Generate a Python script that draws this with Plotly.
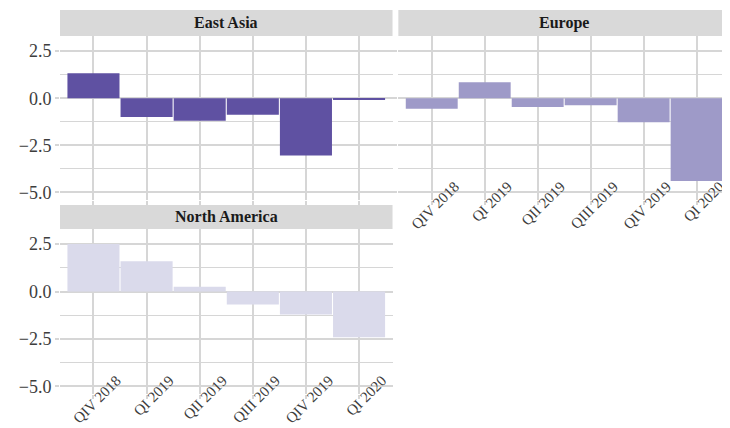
import plotly.graph_objects as go

quarters = ["QIV 2018", "QI 2019", "QII 2019", "QIII 2019", "QIV 2019", "QI 2020"]
east_asia = [1.33, -1.0, -1.2, -0.88, -3.04, -0.07]
europe = [-0.56, 0.84, -0.47, -0.37, -1.28, -4.39]
north_america = [2.51, 1.60, 0.25, -0.68, -1.21, -2.41]
regions = ["East Asia", "Europe", "North America"]
colors = ["#5f51a2", "#9e9ac8", "#dadaeb"]
y_tickvals = [-5.0, -2.5, 0.0, 2.5]
y_ticktext = ["\u22125.0", "\u22122.5", "0.0", "2.5"]
y_minor = [-3.75, -1.25, 1.25]

series = [east_asia, europe, north_america]
SERIF = "Liberation Serif, Times New Roman, serif"
GRID = "#d6d6d6"

fig = go.Figure()
for i, (name, vals, col) in enumerate(zip(regions, series, colors)):
    sfx = "" if i == 0 else str(i + 1)
    fig.add_trace(go.Bar(x=quarters, y=vals, name=name, marker=dict(color=col, line=dict(width=0)),
                         xaxis="x" + sfx, yaxis="y" + sfx, showlegend=False))

xd1 = [0, 0.4963]
xd2 = [0.505, 1.0]
yd_top = [0.5052, 0.9323]
yd_bot = [0.0, 0.4297]
strips = [(xd1, [0.9323, 1.0]), (xd2, [0.9323, 1.0]), (xd1, [0.4297, 0.4922])]

def xax(dom, anchor, labels):
    return dict(domain=dom, anchor=anchor, type="category", categoryorder="array", categoryarray=quarters,
                range=[-0.63, 5.63], showgrid=True, gridcolor=GRID, gridwidth=1.5, zeroline=False,
                showline=False, ticks="outside", ticklen=4, tickcolor=GRID, tickwidth=1.5,
                showticklabels=labels, tickangle=-45, ticklabelshift=23, ticklabelstandoff=-33,
                automargin=False,
                tickfont=dict(family=SERIF, size=15, color="#3d3d3d"))

def yax(dom, anchor, labels):
    return dict(domain=dom, anchor=anchor, range=[-5.4, 3.3], tickvals=y_tickvals, ticktext=y_ticktext,
                showgrid=True, gridcolor=GRID, gridwidth=1.5, zeroline=False, showline=False,
                ticks="outside", ticklen=4, tickcolor=GRID, tickwidth=1.5, showticklabels=labels,
                automargin=False,
                tickfont=dict(family=SERIF, size=18, color="#3d3d3d"),
                minor=dict(tickvals=y_minor, showgrid=True, gridcolor=GRID, gridwidth=1.2, ticks=""))

# page body has an 8px margin, so the figure is 8px smaller and margins shifted
fig.update_layout(
    width=722, height=420, margin=dict(l=52, r=0, t=2, b=34),
    paper_bgcolor="white", plot_bgcolor="white", bargap=0.02,
    xaxis=xax(xd1, "y", False), yaxis=yax(yd_top, "x", True),
    xaxis2=xax(xd2, "y2", True), yaxis2=yax(yd_top, "x2", False),
    xaxis3=xax(xd1, "y3", True), yaxis3=yax(yd_bot, "x3", True),
)

for name, (xd, yd) in zip(regions, strips):
    fig.add_shape(type="rect", xref="paper", yref="paper", x0=xd[0], x1=xd[1], y0=yd[0], y1=yd[1],
                  fillcolor="#d9d9d9", line=dict(width=0), layer="below")
    fig.add_annotation(text="<b>" + name + "</b>", xref="paper", yref="paper",
                       x=(xd[0] + xd[1]) / 2, y=(yd[0] + yd[1]) / 2, showarrow=False,
                       xanchor="center", yanchor="middle",
                       font=dict(family=SERIF, size=16, color="#1a1a1a"))

fig.write_html("out.html")
